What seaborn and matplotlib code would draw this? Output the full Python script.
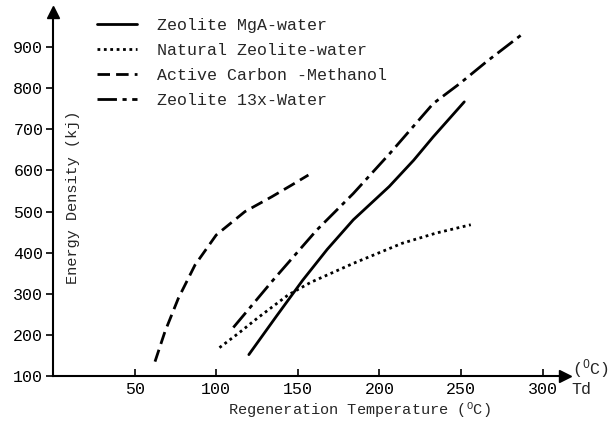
import matplotlib
matplotlib.use("Agg")
import matplotlib.pyplot as plt
import seaborn as sns
import pandas as pd

# ---- data ----
mga_x = [120, 137, 153, 168, 184, 206, 221, 233, 252]
mga_y = [152, 246, 333, 408, 480, 561, 625, 682, 767]

nat_x = [102, 114, 125, 144, 158, 184, 214, 235, 256]
nat_y = [169, 205, 240, 297, 328, 374, 423, 448, 468]

carbon_x = [62.5, 68.6, 76.8, 87, 100, 117.6, 134, 146, 156.5]
carbon_y = [135, 208, 289, 370, 443, 500, 536, 564, 589]

z13_x = [110.5, 135, 161.6, 184, 206.5, 233, 249.4, 265.7, 287]
z13_y = [218, 334, 455, 544, 642, 763, 812, 865, 930]

labels = ["Zeolite MgA-water", "Natural Zeolite-water",
          "Active Carbon -Methanol", "Zeolite 13x-Water"]
x_ticks = [50, 100, 150, 200, 250, 300]
y_ticks = [100, 200, 300, 400, 500, 600, 700, 800, 900]

sns.set_theme(style="white")
MONO = "Liberation Mono"
plt.rcParams["font.family"] = [MONO, "DejaVu Sans"]
plt.rcParams["mathtext.fontset"] = "custom"
plt.rcParams["mathtext.rm"] = MONO
plt.rcParams["mathtext.it"] = MONO

fig = plt.figure(figsize=(6.09, 4.29), dpi=100)
W, H = 609, 429
L, R, B, T = 53, 565, 376, 12
ax = fig.add_axes([L / W, 1 - B / H, (R - L) / W, (B - T) / H])

styles = ["-", (0, (1, 1.3)), (0, (4.5, 2.2)), (0, (7, 2, 1.5, 2))]
series = [(mga_x, mga_y), (nat_x, nat_y), (carbon_x, carbon_y), (z13_x, z13_y)]
for (xs, ys), lab, ls in zip(series, labels, styles):
    df = pd.DataFrame({"x": xs, "y": ys})
    sns.lineplot(data=df, x="x", y="y", ax=ax, color="black", linewidth=2,
                 linestyle=ls, sort=False, estimator=None, label=lab)

ax.set_xlim(0, (R - L) / 1.632)
ax.set_ylim(100, 100 + (B - T) / 0.411)
ax.set_xticks(x_ticks)
ax.set_xticklabels([str(v) for v in x_ticks])
ax.set_yticks(y_ticks)
ax.set_yticklabels([str(v) for v in y_ticks])
ax.tick_params(axis="x", direction="in", length=5, width=1.2, pad=4.5,
               labelsize=12, colors="black", bottom=True)
ax.tick_params(axis="y", direction="out", length=5, width=1.2, pad=2,
               labelsize=12, colors="black", left=True)
for s in ["top", "right"]:
    ax.spines[s].set_visible(False)
for s in ["left", "bottom"]:
    ax.spines[s].set_color("black")
    ax.spines[s].set_linewidth(1.5)

# axis arrows
ax.plot([0], [1], marker="^", color="black", markersize=8,
        transform=ax.transAxes, clip_on=False)
ax.plot([1], [0], marker=">", color="black", markersize=8,
        transform=ax.transAxes, clip_on=False)

ax.set_xlabel("")
ax.set_ylabel("")
ax.text(0.039, (B - 197) / (B - T), "Energy Density (kj)", rotation=90,
        ha="center", va="center", fontsize=11, transform=ax.transAxes)
ax.text((359 - L) / (R - L), -(410 - B) / (B - T),
        r"Regeneration Temperature ($^{\mathrm{O}}$C)",
        ha="center", va="center", fontsize=11, transform=ax.transAxes)
ax.text((590 - L) / (R - L), (B - 369) / (B - T), r"($^{\mathrm{O}}$C)",
        ha="center", va="center", fontsize=12, transform=ax.transAxes)
ax.text((581 - L) / (R - L), -(389 - B) / (B - T), "Td",
        ha="center", va="center", fontsize=12, transform=ax.transAxes)

ax.legend(loc="upper left", bbox_to_anchor=(97 / W, 1 - 18 / H),
          bbox_transform=fig.transFigure, frameon=False, fontsize=12,
          handlelength=2.4, handletextpad=1.2, labelspacing=0.6,
          borderpad=0, borderaxespad=0)

fig.savefig("out.png", dpi=100)
